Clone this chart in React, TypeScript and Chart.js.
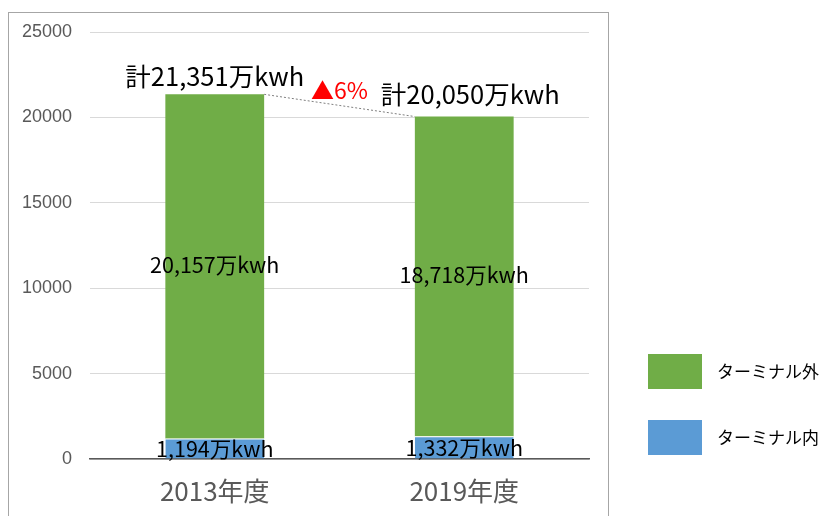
import React, { useEffect, useRef } from "react";
import { Chart, registerables } from "chart.js";

Chart.register(...registerables);

const categories = ["2013年度", "2019年度"];
const seriesNames = ["ターミナル内", "ターミナル外"];
const insideValues = [1194, 1332];
const outsideValues = [20157, 18718];
const totalValues = [21351, 20050];
const insideLabels = ["1,194万kwh", "1,332万kwh"];
const outsideLabels = ["20,157万kwh", "18,718万kwh"];
const totalLabels = ["計21,351万kwh", "計20,050万kwh"];
const changeLabel = "▲6%";
const yMin = 0;
const yMax = 25000;
const yStep = 5000;

const GREEN = "#70AD47";
const BLUE = "#5B9BD5";
const CJK = "'Noto Sans CJK JP', 'Noto Sans', sans-serif";

const overlayPlugin = {
  id: "overlay",
  beforeDraw(chart: any) {
    const ctx = chart.ctx;
    ctx.save();
    ctx.strokeStyle = "#a6a6a6";
    ctx.lineWidth = 1;
    ctx.strokeRect(8.5, 12.5, 600, 700);
    ctx.restore();
  },
  afterDatasetsDraw(chart: any) {
    const ctx = chart.ctx;
    const y = chart.scales.y;
    const inMeta = chart.getDatasetMeta(0);
    const outMeta = chart.getDatasetMeta(1);
    ctx.save();

    // dotted connector between totals
    const b0 = outMeta.data[0];
    const b1 = outMeta.data[1];
    const x0 = b0.x + b0.width / 2;
    const y0 = y.getPixelForValue(totalValues[0]);
    const x1 = b1.x - b1.width / 2;
    const y1 = y.getPixelForValue(totalValues[1]);
    ctx.setLineDash([2, 2]);
    ctx.strokeStyle = "#7f7f7f";
    ctx.lineWidth = 1;
    ctx.beginPath();
    ctx.moveTo(x0, y0);
    ctx.lineTo(x1, y1);
    ctx.stroke();
    ctx.setLineDash([]);

    ctx.textAlign = "center";
    ctx.textBaseline = "middle";
    ctx.fillStyle = "#000";

    // totals
    ctx.font = `25.5px ${CJK}`;
    totalLabels.forEach((t, i) => {
      const b = outMeta.data[i];
      const dx = i === 1 ? 6 : 0;
      const dy = i === 1 ? 22 : 18;
      ctx.fillText(t, b.x + dx, y.getPixelForValue(totalValues[i]) - dy);
    });

    // change label
    ctx.fillStyle = "#ff0000";
    ctx.font = `23px ${CJK}`;
    ctx.fillText(changeLabel, (x0 + x1) / 2, (y0 + y1) / 2 - 15);

    // segment labels
    ctx.fillStyle = "#000";
    ctx.font = `21.5px ${CJK}`;
    outsideLabels.forEach((t, i) => {
      const b = outMeta.data[i];
      ctx.fillText(t, b.x, (b.y + b.base) / 2 - 2);
    });
    insideLabels.forEach((t, i) => {
      const b = inMeta.data[i];
      ctx.fillText(t, b.x, (b.y + b.base) / 2);
    });

    // legend
    const items = [
      { name: seriesNames[1], color: GREEN, top: 354 },
      { name: seriesNames[0], color: BLUE, top: 420 },
    ];
    ctx.textAlign = "left";
    ctx.font = `17px ${CJK}`;
    items.forEach((it) => {
      ctx.fillStyle = it.color;
      ctx.fillRect(648, it.top, 54, 35);
      ctx.fillStyle = "#000";
      ctx.fillText(it.name, 717, it.top + 18);
    });

    ctx.restore();
  },
};

export default function App() {
  const ref = useRef<HTMLCanvasElement>(null);

  useEffect(() => {
    if (!ref.current) return;
    const chart = new Chart(ref.current, {
      type: "bar",
      data: {
        labels: categories,
        datasets: [
          {
            label: seriesNames[0],
            data: insideValues,
            backgroundColor: BLUE,
            borderColor: "#ffffff",
            borderWidth: { top: 1, left: 0, right: 0, bottom: 0 },
            borderSkipped: false,
            barPercentage: 0.396,
            categoryPercentage: 1,
          },
          {
            label: seriesNames[1],
            data: outsideValues,
            backgroundColor: GREEN,
            borderWidth: 0,
            barPercentage: 0.396,
            categoryPercentage: 1,
          },
        ],
      },
      options: {
        responsive: false,
        animation: false,
        devicePixelRatio: 1,
        layout: { padding: { left: 0, right: 236, top: 32, bottom: 0 } },
        plugins: {
          legend: { display: false },
          tooltip: { enabled: false },
        },
        scales: {
          x: {
            stacked: true,
            grid: { display: false, drawTicks: false },
            border: { display: true, color: "#595959", width: 1.5 },
            ticks: {
              color: "#595959",
              font: { family: CJK, size: 26 },
              padding: 17,
            },
            afterFit(scale: any) {
              scale.height = 57;
            },
          },
          y: {
            stacked: true,
            min: yMin,
            max: yMax,
            grid: { color: "#d9d9d9", drawTicks: false, lineWidth: 1 },
            border: { display: false },
            ticks: {
              stepSize: yStep,
              color: "#595959",
              font: { family: "'Liberation Sans', Arial, sans-serif", size: 18 },
              padding: 18,
              callback: (v: any) => String(v),
            },
            afterFit(scale: any) {
              scale.width = 90;
            },
          },
        },
      },
      plugins: [overlayPlugin],
    });
    return () => chart.destroy();
  }, []);

  return (
    <div style={{ position: "fixed", left: 0, top: 0, width: 825, height: 516, background: "#fff" }}>
      <canvas ref={ref} width={825} height={516} />
    </div>
  );
}
